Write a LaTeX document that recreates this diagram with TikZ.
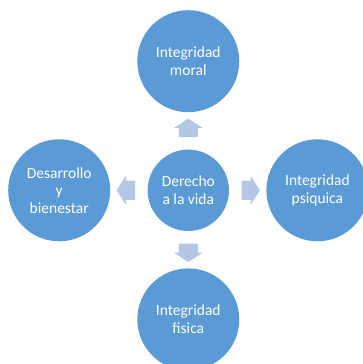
\documentclass[tikz,border=0pt]{standalone}
\usepackage{fontspec}
\setmainfont{Carlito}
\usetikzlibrary{shapes,arrows,positioning,calc}
\definecolor{circ}{HTML}{5B9BD5}
\definecolor{pale}{HTML}{B4C7E7}
\tikzstyle{bubble}=[circle, fill=circ, text=white, align=center, inner sep=0pt, minimum size=102pt, font=\fontsize{15.5}{17.5}\selectfont]
\tikzstyle{core}=[bubble, minimum size=81.4pt]
\tikzstyle{flecha}=[single arrow, fill=pale, inner xsep=0pt, inner ysep=9.35pt, minimum height=18.4pt, minimum width=0pt, single arrow head extend=4.85pt, single arrow tip angle=114]

\begin{document}
\begin{tikzpicture}[x=1pt, y=1pt, node distance=37pt]
\useasboundingbox (0,0) rectangle (362,364);

\node (vida) [core] at (188.3,173.7) {Derecho\\a la vida};
\node (moral) [bubble, above=of vida] {Integridad\\moral};
\node (psiquica) [bubble, right=of vida] {Integridad\\psiquica};
\node (fisica) [bubble, below=of vida] {Integridad\\fisica};
\node (desarrollo) [bubble, left=of vida] {Desarrollo\\y\\bienestar};

\node (up) [flecha, rotate=90] at ($(vida.north)!0.5!(moral.south)$) {};
\node (rt) [flecha] at ($(vida.east)!0.5!(psiquica.west)$) {};
\node (dn) [flecha, rotate=270] at ($(vida.south)!0.5!(fisica.north)$) {};
\node (lt) [flecha, rotate=180] at ($(vida.west)!0.5!(desarrollo.east)$) {};

\end{tikzpicture}
\end{document}
